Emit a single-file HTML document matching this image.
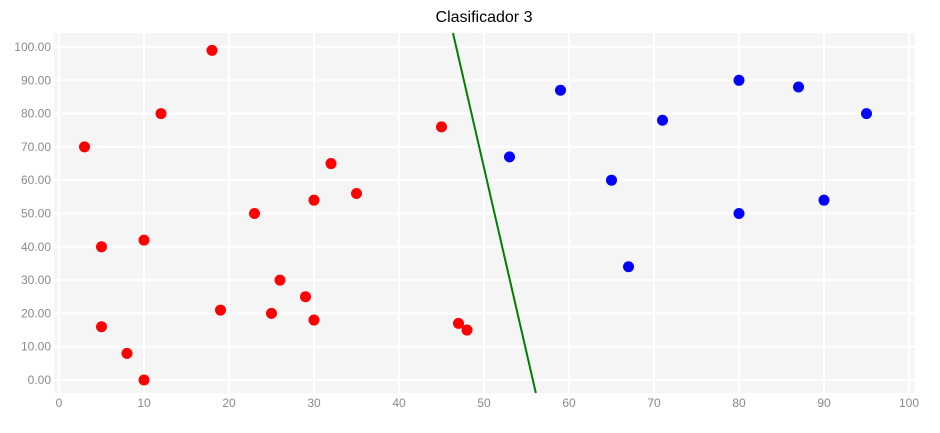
<!DOCTYPE html>
<html><head><meta charset="utf-8"><style>
body{margin:0;background:#fff;font-family:"Liberation Sans",sans-serif;}
svg text{font-family:"Liberation Sans",sans-serif;}
</style></head><body>
<svg id="chart" width="940" height="428" xmlns="http://www.w3.org/2000/svg">
<text x="484" y="22" text-anchor="middle" font-size="16" fill="#000">Clasificador 3</text>
<rect x="54" y="33" width="861" height="360" fill="#f5f5f5"/>
<g id="grid"></g><g id="ticks"></g><g id="marks"></g>
</svg>
<script>
const xTicks=[0,10,20,30,40,50,60,70,80,90,100];
const yTicks=[0,10,20,30,40,50,60,70,80,90,100];
const redX=[3,5,5,8,10,10,12,18,19,23,25,26,29,30,30,32,35,45,47,48];
const redY=[70,40,16,8,0,42,80,99,21,50,20,30,25,54,18,65,56,76,17,15];
const blueX=[53,59,65,67,71,80,80,87,90,95];
const blueY=[67,87,60,34,78,90,50,88,54,80];
const lineX=[46.35,56.1];
const lineY=[104.2,-3.9];
const NS="http://www.w3.org/2000/svg";
const sx=v=>59+v*8.5, sy=v=>380-v*3.33;
function mk(t,a,p){const e=document.createElementNS(NS,t);for(const k in a)e.setAttribute(k,a[k]);p.appendChild(e);return e;}
const g=document.getElementById('grid'),tk=document.getElementById('ticks'),m=document.getElementById('marks');
xTicks.forEach(v=>{
  const l=mk('line',{x1:sx(v),x2:sx(v),y1:33,y2:393,stroke:'#fff','stroke-width':2},g);
  
  
  const t=mk('text',{x:sx(v),y:407,'text-anchor':'middle','font-size':12,fill:'#8a8a8a'},tk);t.textContent=v;
  
  
});
yTicks.forEach(v=>{
  const l=mk('line',{x1:54,x2:915,y1:sy(v),y2:sy(v),stroke:'#fff','stroke-width':2},g);
  
  
  const t=mk('text',{x:51,y:sy(v)+4,'text-anchor':'end','font-size':12,fill:'#8a8a8a'},tk);t.textContent=v.toFixed(2);
  
  
});
redX.forEach((x,i)=>{const c=mk('circle',{cx:sx(x),cy:sy(redY[i]),r:5.5,fill:'#ff0000'},m);
  
  });
blueX.forEach((x,i)=>{const c=mk('circle',{cx:sx(x),cy:sy(blueY[i]),r:5.5,fill:'#0000ff'},m);
  
  });
const ln=mk('line',{x1:sx(lineX[0]),y1:sy(lineY[0]),x2:sx(lineX[1]),y2:sy(lineY[1]),stroke:'#008000','stroke-width':2},m);


</script>
</body></html>
